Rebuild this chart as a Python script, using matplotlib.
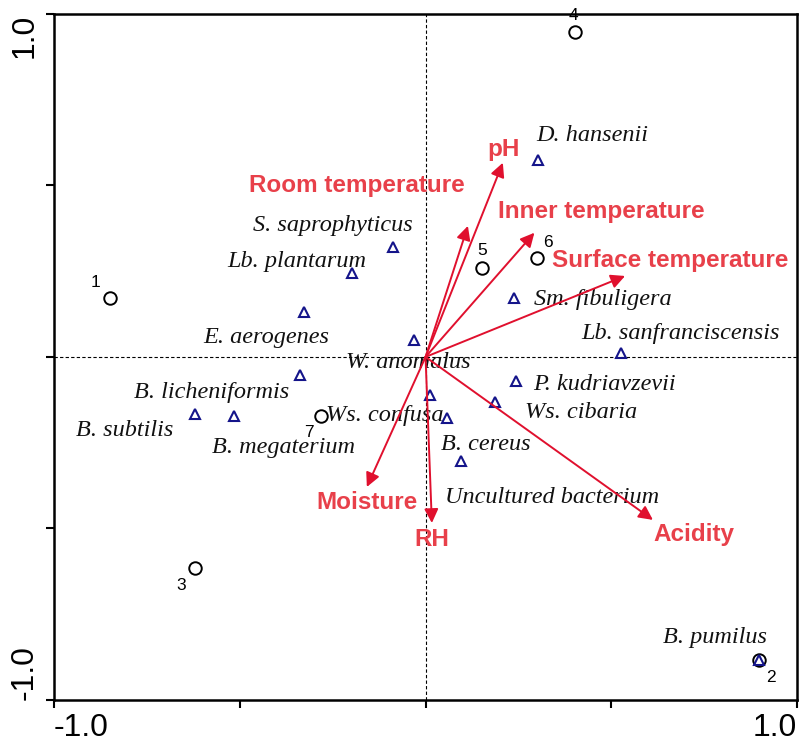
import matplotlib
matplotlib.use("Agg")
import matplotlib.pyplot as plt

# sample scores (open circles)
site_names = ["1", "2", "3", "4", "5", "6", "7"]
site_x = [-0.849, 0.898, -0.620, 0.402, 0.152, 0.300, -0.281]
site_y = [0.172, -0.883, -0.615, 0.948, 0.259, 0.289, -0.172]
site_lx = [-0.887, 0.930, -0.658, 0.397, 0.152, 0.330, -0.314]
site_ly = [0.216, -0.933, -0.665, 0.995, 0.309, 0.335, -0.219]

# species scores (triangles)
sp_x = [0.302, -0.087, -0.198, -0.327, -0.031, 0.238, 0.526, 0.244, 0.187,
        -0.338, -0.620, -0.515, 0.058, 0.012, 0.096, 0.898]
sp_y = [0.574, 0.321, 0.245, 0.131, 0.050, 0.172, 0.012, -0.070, -0.131,
        -0.052, -0.166, -0.172, -0.178, -0.111, -0.303, -0.883]

# species labels
sp_names = ["D. hansenii", "S. saprophyticus", "Lb. plantarum", "E. aerogenes",
            "W. anomalus", "Sm. fibuligera", "Lb. sanfranciscensis",
            "P. kudriavzevii", "Ws. cibaria", "B. licheniformis", "B. subtilis",
            "B. megaterium", "Ws. confusa", "B. cereus", "Uncultured bacterium",
            "B. pumilus"]
sp_lx = [0.448, -0.249, -0.346, -0.430, -0.047, 0.478, 0.685, 0.481, 0.419,
         -0.577, -0.811, -0.383, -0.109, 0.163, 0.341, 0.779]
sp_ly = [0.644, 0.382, 0.277, 0.058, -0.015, 0.166, 0.067, -0.079, -0.163,
         -0.105, -0.213, -0.265, -0.172, -0.254, -0.411, -0.819]

# environmental vectors
env_names = ["pH", "Room temperature", "Inner temperature", "Surface temperature",
             "Acidity", "RH", "Moisture"]
env_x = [0.208, 0.114, 0.293, 0.537, 0.612, 0.017, -0.158]
env_y = [0.566, 0.382, 0.362, 0.236, -0.475, -0.484, -0.379]
env_lx = [0.209, -0.184, 0.472, 0.658, 0.723, 0.017, -0.157]
env_ly = [0.606, 0.501, 0.423, 0.280, -0.519, -0.531, -0.423]

fig = plt.figure(figsize=(7.99, 7.41), dpi=100)
ax = fig.add_axes([0.0676, 0.0553, 0.93, 0.926])
ax.set_xlim(-1.0, 1.0)
ax.set_ylim(-1.0, 1.0)

ax.axhline(0, color="black", lw=0.8, ls=(0, (3, 2)), zorder=1)
ax.axvline(0, color="black", lw=0.8, ls=(0, (3, 2)), zorder=1)

ax.plot(site_x, site_y, "o", ms=9, mfc="none", mec="black", mew=1.4, zorder=3)
for n, x, y in zip(site_names, site_lx, site_ly):
    ax.text(x, y, n, ha="center", va="center", fontsize=12.5,
            family="Liberation Sans", clip_on=False, zorder=4)

ax.plot(sp_x, sp_y, "^", ms=7.5, mfc="none", mec="#14148a", mew=1.5, zorder=3)
for n, x, y in zip(sp_names, sp_lx, sp_ly):
    ax.text(x, y, n, ha="center", va="center", fontsize=17.5, style="italic",
            family="Liberation Serif", color="#111111", zorder=4)

for x, y in zip(env_x, env_y):
    ax.annotate("", xy=(x, y), xytext=(0, 0),
                arrowprops=dict(arrowstyle="-|>", color="#e0102e", lw=1.4,
                                mutation_scale=21, shrinkA=0, shrinkB=0),
                zorder=5)
for n, x, y in zip(env_names, env_lx, env_ly):
    ax.text(x, y, n, ha="center", va="center", fontsize=17.5, weight="bold",
            family="Liberation Sans", color="#e8404a", zorder=6)

ticks = [-1.0, -0.5, 0.0, 0.5, 1.0]
ax.set_xticks(ticks)
ax.set_yticks(ticks)
ax.set_xticklabels(["-1.0", "", "", "", "1.0"])
ax.set_yticklabels(["-1.0", "", "", "", "1.0"], rotation=90)
ax.tick_params(direction="out", length=6, width=1.5, labelsize=23, pad=3)
ax.tick_params(axis="y", pad=4)
for lab in ax.get_xticklabels() + ax.get_yticklabels():
    lab.set_family("Liberation Sans")
xl = ax.get_xticklabels()
xl[0].set_ha("left")
xl[-1].set_ha("right")
yl = ax.get_yticklabels()
yl[0].set_va("bottom")
yl[-1].set_va("top")

for s in ax.spines.values():
    s.set_linewidth(1.8)

fig.savefig("out.png", dpi=100)
